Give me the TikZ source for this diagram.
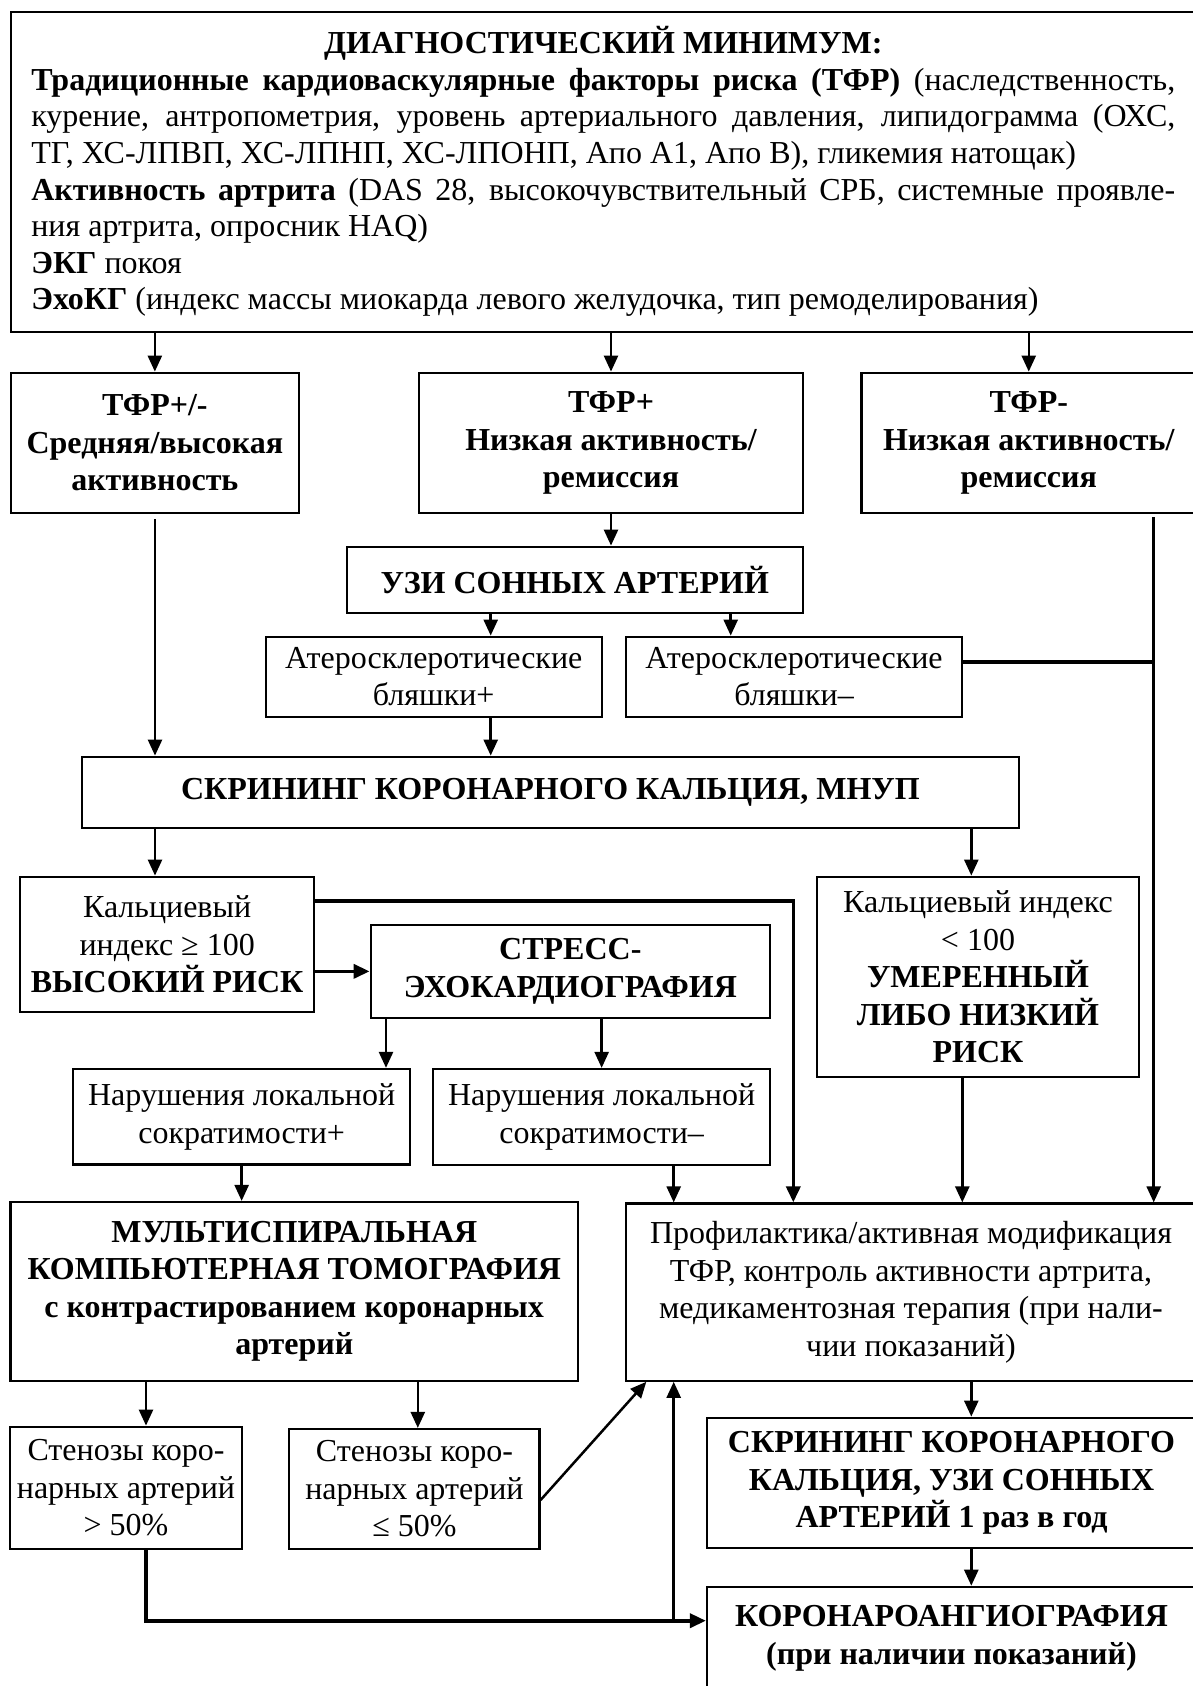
\documentclass[tikz,border=0pt]{standalone}
\usepackage{fontspec}
\setmainfont{Liberation Serif}
\usetikzlibrary{positioning}
\usetikzlibrary{arrows.meta}
\newcommand{\fsz}{\fontsize{32}{37.5}\selectfont}
\newcommand{\jline}[1]{\makebox[1144pt][s]{#1}}
\tikzset{
	every node/.style = {font=\fsz},
	box/.style = {draw, line width=2.2pt, inner sep=0pt, align=center},
	hdr/.style = {box, font=\fsz\bfseries},
	arr/.style = {-{Triangle[length=16pt, width=14pt]}, line width=2.5pt},
	thk/.style = {line width=3.6pt}
}

\begin{document}
\begin{tikzpicture}[x=1pt, y=-1pt]
		\useasboundingbox (0,0) rectangle (1193,1686);
		\clip (0,0) rectangle (1193,1686);
		% row 0
		\node[box, align=left, minimum width=1185.3pt, minimum height=320pt, font=\fontsize{32}{36.6}\selectfont] (diag) at (603.35,171.7) {%
			\makebox[1144pt][c]{\bfseries ДИАГНОСТИЧЕСКИЙ МИНИМУМ:}\\
			\jline{\textbf{Традиционные кардиоваскулярные факторы риска (ТФР)} (наследственность,}\\
			\jline{курение, антропометрия, уровень артериального давления, липидограмма (ОХС,}\\
			ТГ, ХС-ЛПВП, ХС-ЛПНП, ХС-ЛПОНП, Апо А1, Апо В), гликемия натощак)\\
			\jline{\textbf{Активность артрита} (DAS 28, высокочувствительный СРБ, системные проявле-}\\
			ния артрита, опросник HAQ)\\
			\textbf{ЭКГ} покоя\\
			\textbf{ЭхоКГ} (индекс массы миокарда левого желудочка, тип ремоделирования)};
		% row 1
		\node[hdr, minimum width=288.3pt, minimum height=140.6pt] (tfrA) at (154.85,443) {ТФР+/-\\Средняя/высокая\\активность};
		\node[hdr, minimum width=384pt, minimum height=140.6pt] (tfrB) at (611,443) {ТФР+\\Низкая активность/\\ремиссия};
		\node[hdr, minimum width=334.5pt, minimum height=140.6pt] (tfrC) at (1028.75,443) {ТФР-\\Низкая активность/\\ремиссия};
		% row 2
		\node[hdr, minimum width=456.3pt, minimum height=66pt] (uzi) at (574.85,579.7) {УЗИ СОННЫХ АРТЕРИЙ};
		\node[box, minimum width=336pt, minimum height=80pt] (athP) at (433.7,676.7) {Атеросклеротические\\бляшки+};
		\node[box, minimum width=336pt, minimum height=80pt] (athM) at (794,676.7) {Атеросклеротические\\бляшки–};
		\node[hdr, minimum width=936.5pt, minimum height=71.6pt] (scr) at (550.45,792.5) {СКРИНИНГ КОРОНАРНОГО КАЛЬЦИЯ, МНУП};
		% row 3
		\node[box, minimum width=294.3pt, minimum height=135pt] (calcH) at (167.15,944.2) {Кальциевый\\индекс ≥ 100\\\textbf{ВЫСОКИЙ РИСК}};
		\node[hdr, minimum width=399.3pt, minimum height=92.7pt] (stress) at (570.35,971.35) {СТРЕСС-\\ЭХОКАРДИОГРАФИЯ};
		\node[box, minimum width=321.4pt, minimum height=200pt] (calcL) at (978,976.7) {Кальциевый индекс\\< 100\\\textbf{УМЕРЕННЫЙ}\\\textbf{ЛИБО НИЗКИЙ}\\\textbf{РИСК}};
		\node[box, minimum width=336.7pt, minimum height=95.5pt] (narP) at (241.65,1116.7) {Нарушения локальной\\сократимости+};
		\node[box, minimum width=336.7pt, minimum height=96pt] (narM) at (601.65,1117) {Нарушения локальной\\сократимости–};
		% row 4
		\node[hdr, minimum width=567.5pt, minimum height=178.7pt] (mskt) at (294.25,1291.35) {МУЛЬТИСПИРАЛЬНАЯ\\КОМПЬЮТЕРНАЯ ТОМОГРАФИЯ\\с контрастированием коронарных\\артерий};
		\node[box, minimum width=570pt, minimum height=177.2pt] (prof) at (911,1292.1) {Профилактика/активная модификация\\ТФР, контроль активности артрита,\\медикаментозная терапия (при нали-\\чии показаний)};
		% row 5
		\node[box, minimum width=232pt, minimum height=122.3pt] (stenH) at (126,1487.85) {Стенозы коро-\\нарных артерий\\> 50\%};
		\node[box, minimum width=250.2pt, minimum height=120pt] (stenL) at (414.4,1489) {Стенозы коро-\\нарных артерий\\≤ 50\%};
		\node[hdr, minimum width=489pt, minimum height=130.6pt] (scr2) at (951.5,1483) {СКРИНИНГ КОРОНАРНОГО\\КАЛЬЦИЯ, УЗИ СОННЫХ\\АРТЕРИЙ 1 раз в год};
		\node[hdr, minimum width=489pt, minimum height=103pt] (koro) at (951.5,1638.3) {КОРОНАРОАНГИОГРАФИЯ\\(при наличии показаний)};
		% columns of the connectors
		\coordinate (c1) at (155,0);
		\coordinate (cU1) at (490.7,0);
		\coordinate (cU2) at (730.7,0);
		\coordinate (cS) at (793.3,0);
		\coordinate (cL) at (962.3,0);
		\coordinate (cK) at (971.3,0);
		\coordinate (cR) at (1153.7,0);
		\coordinate (cN) at (386,0);
		\coordinate (cP) at (673.7,0);
		\coordinate (cM) at (146,0);
		\coordinate (cQ) at (417.8,0);
		\coordinate (join) at (673.7,1620.7);
		% connectors
		\draw[arr] (diag.south -| tfrA) -- (tfrA.north);
		\draw[arr] (diag.south -| tfrB) -- (tfrB.north);
		\draw[arr] (diag.south -| tfrC) -- (tfrC.north);
		\draw[arr] (tfrB.south) -- (tfrB.south |- uzi.north);
		\draw[arr] (uzi.south -| cU1) -- (athP.north -| cU1);
		\draw[arr] (uzi.south -| cU2) -- (athM.north -| cU2);
		\draw[arr, shorten <=5pt] (tfrA.south -| c1) -- (scr.north -| c1);
		\draw[arr] (athP.south -| cU1) -- (scr.north -| cU1);
		\draw[thk] ([yshift=15pt]athM.east) -- ([yshift=15pt]athM.east -| cR);
		\draw[arr, shorten <=3pt] (tfrC.south -| cR) -- (prof.north -| cR);
		\draw[arr] (scr.south -| c1) -- (calcH.north -| c1);
		\draw[arr] (scr.south -| cK) -- (calcL.north -| cK);
		\draw[arr, thk] ([yshift=43.5pt]calcH.east) -| (prof.north -| cS);
		\draw[arr, thk] (calcH.east |- stress.west) -- (stress.west);
		\draw[arr] (stress.south -| cN) -- (narP.north -| cN);
		\draw[arr] (stress.south -| narM) -- (narM.north);
		\draw[arr] (calcL.south -| cL) -- (prof.north -| cL);
		\draw[arr] (narP.south) -- (narP.south |- mskt.north);
		\draw[arr] (narM.south -| cP) -- (prof.north -| cP);
		\draw[arr] (mskt.south -| cM) -- (stenH.north -| cM);
		\draw[arr] (mskt.south -| cQ) -- (stenL.north -| cQ);
		\draw[arr] ([yshift=-11pt]stenL.east) -- ([xshift=21.4pt]prof.south west);
		\draw[arr, thk] (stenH.south -| cM) |- ([yshift=17.6pt]koro.west);
		\draw[arr] (join) -- (prof.south -| join);
		\draw[arr] (prof.south -| cK) -- (scr2.north -| cK);
		\draw[arr] (scr2.south -| cK) -- (koro.north -| cK);
	\end{tikzpicture}
\end{document}
